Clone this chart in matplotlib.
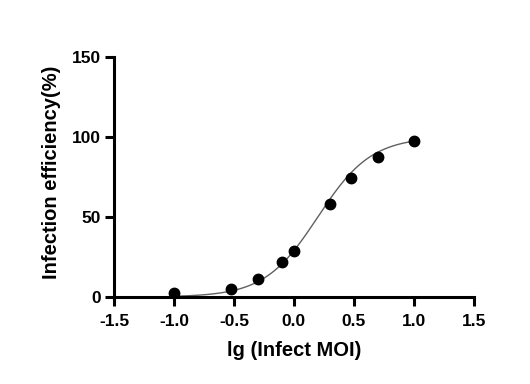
import numpy as np
import matplotlib.pyplot as plt

plt.rcParams['font.family'] = ['Liberation Sans', 'DejaVu Sans']
plt.rcParams['font.weight'] = 'bold'

# measured data: lg(MOI) vs infection efficiency (%)
lg_moi = [-1.0, -0.523, -0.301, -0.097, 0.0, 0.301, 0.477, 0.699, 1.0]
efficiency = [2.3, 5.0, 11.0, 22.0, 29.0, 58.0, 74.0, 87.7, 97.7]

# fitted 4PL curve parameters
bottom, top = 0.0, 100.0
log_ec50 = 0.2
hill = 1.95

x_ticks = [-1.5, -1.0, -0.5, 0.0, 0.5, 1.0, 1.5]
y_ticks = [0, 50, 100, 150]

fig = plt.figure(figsize=(5.3, 3.84), dpi=100)
ax = fig.add_axes([0.215, 0.2266, 0.679, 0.6256])

xs = np.linspace(min(lg_moi), max(lg_moi), 200)
fit = bottom + (top - bottom) / (1 + 10 ** ((log_ec50 - xs) * hill))
ax.plot(xs, fit, color='#606060', lw=1.0, zorder=2)
ax.plot(lg_moi, efficiency, 'o', color='black', ms=7.5, zorder=3)

ax.set_xlim(-1.5, 1.5)
ax.set_ylim(0, 150)
ax.set_xticks(x_ticks)
ax.set_xticklabels([f'{v:.1f}' for v in x_ticks])
ax.set_yticks(y_ticks)

for s in ['top', 'right']:
    ax.spines[s].set_visible(False)
for s in ['left', 'bottom']:
    ax.spines[s].set_linewidth(2.2)
    ax.spines[s].set_capstyle('projecting')
ax.tick_params(width=2.2, length=6.5, labelsize=12.5)
ax.tick_params(axis='x', pad=5.5)
ax.tick_params(axis='y', pad=3)

ax.set_xlabel('lg (Infect MOI)', fontsize=14.5, fontweight='bold', labelpad=9)
ax.set_ylabel('Infection efficiency(%)', fontsize=14.5, fontweight='bold')
ax.yaxis.set_label_coords(-0.147, 0.52)

fig.savefig('out.png', dpi=100)
